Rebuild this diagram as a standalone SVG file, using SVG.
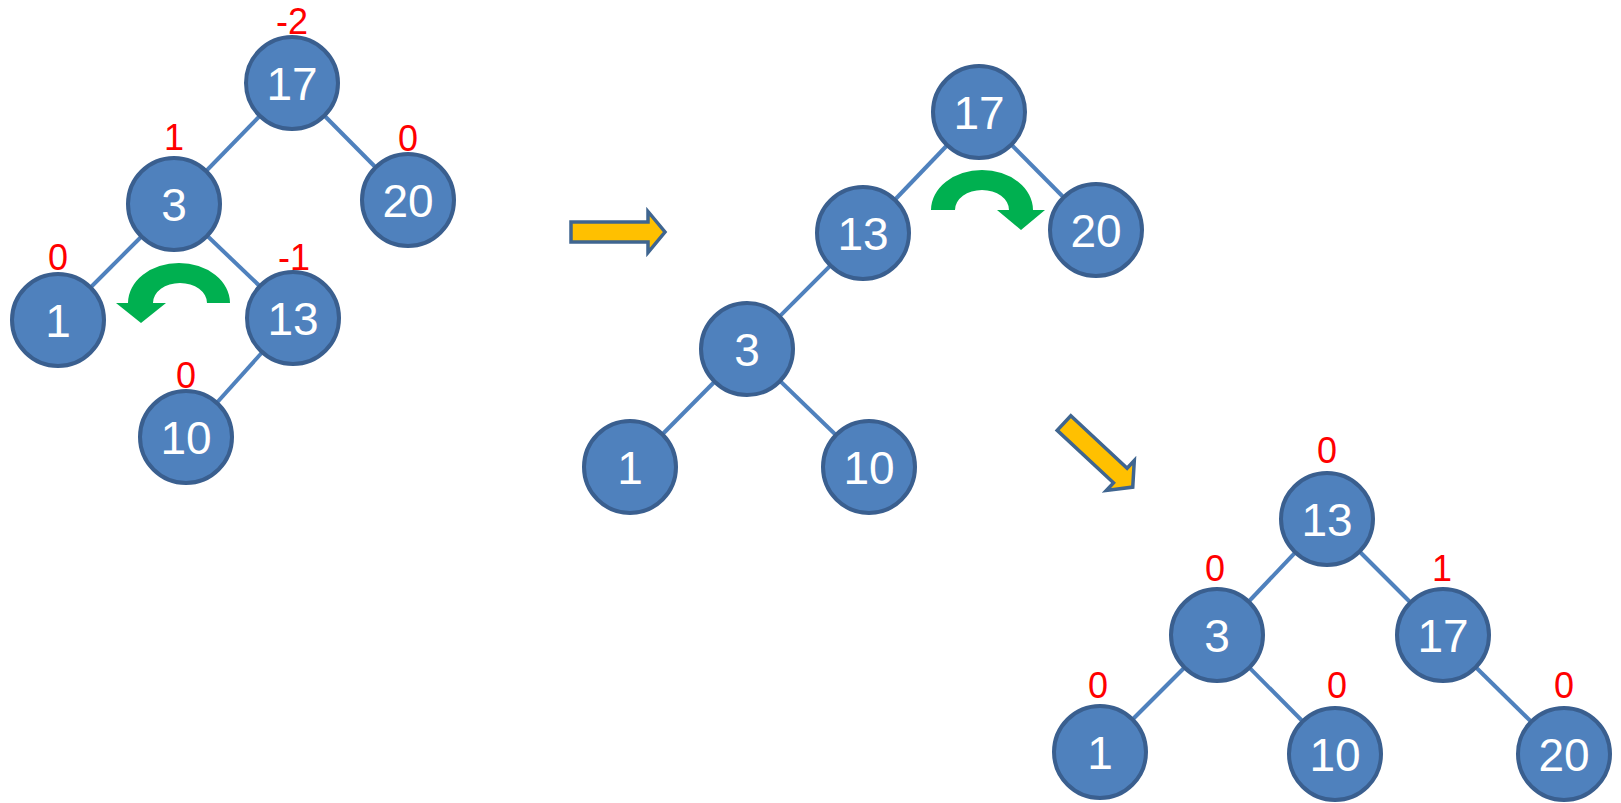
<svg xmlns="http://www.w3.org/2000/svg" width="1621" height="803" viewBox="0 0 1621 803">
<style>
.edge{stroke:#4f81bd;stroke-width:4;fill:none}
.node circle{fill:#4f81bd;stroke:#3a5f8f;stroke-width:4}
.node text{fill:#ffffff;font-family:"Liberation Sans",Arial,sans-serif;font-size:46px;text-anchor:middle}
.bf{fill:#ff0000;font-family:"Liberation Sans",Arial,sans-serif;font-size:36px;text-anchor:middle}
.rot{fill:#00b050}
.step{fill:#ffc000;stroke:#3f6590;stroke-width:3.5;stroke-linejoin:miter}
</style>
<defs>
<path id="bigArrow" d="M0,-10 L77,-10 L77,-20.5 L94,0 L77,20.5 L77,10 L0,10 Z"/>
</defs>
<rect width="1621" height="803" fill="#ffffff"/>
<g id="connectors">
<line class="edge" x1="292" y1="83" x2="174" y2="204"/>
<line class="edge" x1="292" y1="83" x2="408" y2="200"/>
<line class="edge" x1="174" y1="204" x2="58" y2="320"/>
<line class="edge" x1="174" y1="204" x2="293" y2="318"/>
<line class="edge" x1="293" y1="318" x2="186" y2="437"/>
<line class="edge" x1="979" y1="112" x2="863" y2="233"/>
<line class="edge" x1="979" y1="112" x2="1096" y2="230"/>
<line class="edge" x1="863" y1="233" x2="747" y2="349"/>
<line class="edge" x1="747" y1="349" x2="630" y2="467"/>
<line class="edge" x1="747" y1="349" x2="869" y2="467"/>
<line class="edge" x1="1327" y1="519" x2="1217" y2="635"/>
<line class="edge" x1="1327" y1="519" x2="1443" y2="635"/>
<line class="edge" x1="1217" y1="635" x2="1100" y2="752"/>
<line class="edge" x1="1217" y1="635" x2="1335" y2="754"/>
<line class="edge" x1="1443" y1="635" x2="1564" y2="754"/>
</g>
<g id="t1-17" class="node"><circle cx="292" cy="83" r="46"/><text x="292" y="100">17</text></g>
<g id="t1-3" class="node"><circle cx="174" cy="204" r="46"/><text x="174" y="221">3</text></g>
<g id="t1-20" class="node"><circle cx="408" cy="200" r="46"/><text x="408" y="217">20</text></g>
<g id="t1-1" class="node"><circle cx="58" cy="320" r="46"/><text x="58" y="337">1</text></g>
<g id="t1-13" class="node"><circle cx="293" cy="318" r="46"/><text x="293" y="335">13</text></g>
<g id="t1-10" class="node"><circle cx="186" cy="437" r="46"/><text x="186" y="454">10</text></g>
<g id="t1-labels">
<text class="bf" x="292" y="34">-2</text>
<text class="bf" x="174" y="150">1</text>
<text class="bf" x="408" y="151">0</text>
<text class="bf" x="58" y="270">0</text>
<text class="bf" x="294" y="270">-1</text>
<text class="bf" x="186" y="388">0</text>
</g>
<g id="rotate-left"><path class="rot" d="M230,303 A51,40 0 0 0 128,303 L116,303 L141,323 L166,303 L153,303 A27,20 0 0 1 207,303 Z"/></g>
<g id="step-right"><use href="#bigArrow" class="step" transform="translate(571,232)"/></g>
<g id="t2-17" class="node"><circle cx="979" cy="112" r="46"/><text x="979" y="129">17</text></g>
<g id="t2-13" class="node"><circle cx="863" cy="233" r="46"/><text x="863" y="250">13</text></g>
<g id="t2-20" class="node"><circle cx="1096" cy="230" r="46"/><text x="1096" y="247">20</text></g>
<g id="t2-3" class="node"><circle cx="747" cy="349" r="46"/><text x="747" y="366">3</text></g>
<g id="t2-1" class="node"><circle cx="630" cy="467" r="46"/><text x="630" y="484">1</text></g>
<g id="t2-10" class="node"><circle cx="869" cy="467" r="46"/><text x="869" y="484">10</text></g>
<g id="rotate-right"><path class="rot" d="M931,210 A51,40 0 0 1 1033,210 L1045,210 L1021,230 L997,210 L1009,210 A27,20 0 0 0 955,210 Z"/></g>
<g id="step-down"><use href="#bigArrow" class="step" transform="translate(1064,423) rotate(43)"/></g>
<g id="t3-13" class="node"><circle cx="1327" cy="519" r="46"/><text x="1327" y="536">13</text></g>
<g id="t3-3" class="node"><circle cx="1217" cy="635" r="46"/><text x="1217" y="652">3</text></g>
<g id="t3-17" class="node"><circle cx="1443" cy="635" r="46"/><text x="1443" y="652">17</text></g>
<g id="t3-1" class="node"><circle cx="1100" cy="752" r="46"/><text x="1100" y="769">1</text></g>
<g id="t3-10" class="node"><circle cx="1335" cy="754" r="46"/><text x="1335" y="771">10</text></g>
<g id="t3-20" class="node"><circle cx="1564" cy="754" r="46"/><text x="1564" y="771">20</text></g>
<g id="t3-labels">
<text class="bf" x="1327" y="463">0</text>
<text class="bf" x="1215" y="581">0</text>
<text class="bf" x="1442" y="581">1</text>
<text class="bf" x="1098" y="698">0</text>
<text class="bf" x="1337" y="698">0</text>
<text class="bf" x="1564" y="698">0</text>
</g>
</svg>
